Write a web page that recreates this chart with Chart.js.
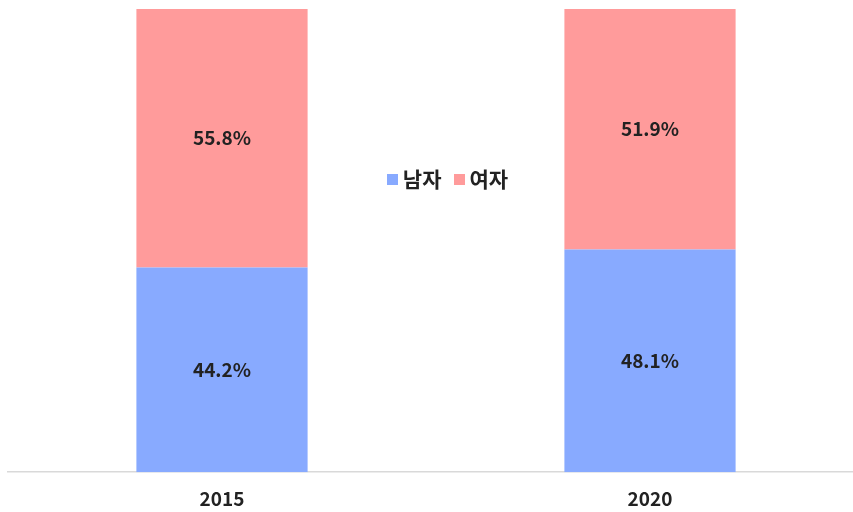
<!DOCTYPE html>
<html>
<head>
<meta charset="utf-8">
<script src="https://cdn.jsdelivr.net/npm/chart.js@4"></script>
<style>
  html, body { margin: 0; padding: 0; background: #fff; overflow: hidden; }
  #wrap { position: relative; width: 866px; height: 512px; }
  #legend {
    position: absolute; left: 0; top: 163px; text-align: center;
    font-family: "Noto Sans CJK KR", sans-serif; font-weight: bold; font-size: 21px; color: #222;
  }
  #legend span.box { display: inline-block; width: 11px; height: 11px; margin-right: 5px; vertical-align: 2px; }
  #legend span.item { margin: 0 6px; }
</style>
</head>
<body>
<div id="wrap">
  <canvas id="c" width="866" height="512"></canvas>
  <div id="legend"></div>
</div>
<script>
const years = ['2015', '2020'];
const male = [44.2, 48.1];
const female = [55.8, 51.9];
const seriesNames = ['남자', '여자'];
const colors = ['#88aaff', '#ff9b9b'];

const barLabels = {
  id: 'barLabels',
  afterDatasetsDraw(chart) {
    const ctx = chart.ctx;
    ctx.save();
    ctx.font = 'bold 19px "Noto Sans CJK KR", sans-serif';
    ctx.fillStyle = '#222';
    ctx.textAlign = 'center';
    ctx.textBaseline = 'middle';
    chart.data.datasets.forEach((ds, i) => {
      chart.getDatasetMeta(i).data.forEach((bar, j) => {
        const mid = (bar.y + bar.base) / 2;
        ctx.fillText(ds.data[j].toFixed(1) + '%', bar.x, mid);
      });
    });
    ctx.restore();
  }
};

const chart = new Chart(document.getElementById('c'), {
  type: 'bar',
  data: {
    labels: years,
    datasets: [
      { label: seriesNames[0], data: male, backgroundColor: colors[0] },
      { label: seriesNames[1], data: female, backgroundColor: colors[1] }
    ]
  },
  options: {
    responsive: false,
    animation: false,
    barPercentage: 0.4,
    categoryPercentage: 1,
    layout: { padding: { top: 9, left: 8, right: 2, bottom: -13 } },
    plugins: {
      legend: { display: false },
      tooltip: { enabled: false }
    },
    scales: {
      x: {
        stacked: true,
        grid: { display: false, drawTicks: false },
        border: { display: true, color: '#d9d9d9', width: 1.5 },
        ticks: {
          color: '#222',
          padding: 15,
          font: { family: '"Noto Sans CJK KR", sans-serif', weight: 'bold', size: 19 }
        }
      },
      y: {
        stacked: true,
        display: false,
        min: 0,
        max: 100
      }
    }
  },
  plugins: [barLabels]
});

const legend = document.getElementById('legend');
legend.style.width = '895px';
legend.innerHTML = chart.data.datasets.map(ds =>
  '<span class="item"><span class="box" style="background:' + ds.backgroundColor + '"></span>' + ds.label + '</span>'
).join('');
</script>
</body>
</html>
